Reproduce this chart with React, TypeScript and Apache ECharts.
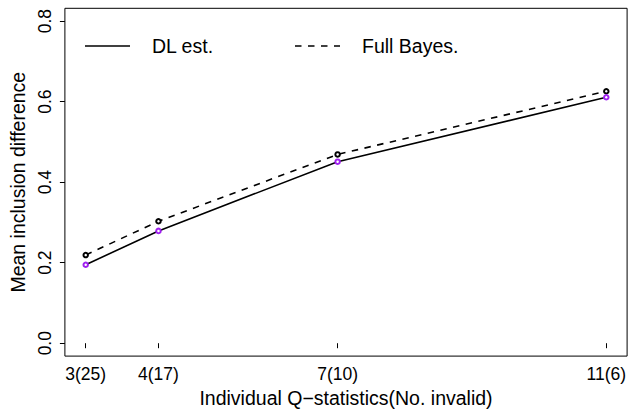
import React, { useEffect, useRef } from "react";
import * as echarts from "echarts";

// x positions of the four settings (on the plot's numeric scale) and their labels
const xPositions = [3, 4.084, 6.753, 10.756];
const xLabels = ["3(25)", "4(17)", "7(10)", "11(6)"];
const yTicks = [0, 0.2, 0.4, 0.6, 0.8];
const dlEst = [0.195, 0.279, 0.451, 0.611];
const fullBayes = [0.219, 0.303, 0.469, 0.626];
const seriesNames = ["DL est.", "Full Bayes."];

const FONT = "Liberation Sans, Arial, Helvetica, sans-serif";

export default function App() {
  const ref = useRef<HTMLDivElement>(null);
  useEffect(() => {
    if (!ref.current) return;
    const chart = echarts.init(ref.current, null, { renderer: "svg" });
    const labelFor = (v: number) => {
      const i = xPositions.findIndex((p) => Math.abs(p - v) < 1e-6);
      return i >= 0 ? xLabels[i] : "";
    };
    chart.setOption({
      animation: false,
      backgroundColor: "#ffffff",
      textStyle: { fontFamily: FONT },
      grid: {
        left: 63,
        top: 8.3,
        width: 566.3,
        height: 355,
        show: true,
        borderColor: "#000000",
        borderWidth: 1,
        backgroundColor: "transparent",
      },
      xAxis: {
        type: "value",
        min: 2.69,
        max: 11.066,
        name: "Individual Q\u2212statistics(No. invalid)",
        nameLocation: "middle",
        nameGap: 27,
        nameTextStyle: { fontSize: 19.5, color: "#000", fontFamily: FONT },
        axisLine: { show: false },
        splitLine: { show: false },
        axisTick: {
          show: true,
          length: 5,
          customValues: xPositions,
          lineStyle: { color: "#000", width: 1 },
        },
        axisLabel: {
          customValues: xPositions,
          formatter: (v: number) => labelFor(v),
          fontSize: 17.5,
          color: "#000",
          margin: 9,
          fontFamily: FONT,
        },
      },
      yAxis: {
        type: "value",
        min: -0.032,
        max: 0.832,
        name: "Mean inclusion difference",
        nameLocation: "middle",
        nameGap: 26,
        nameTextStyle: { fontSize: 19.5, color: "#000", fontFamily: FONT },
        axisLine: { show: false },
        splitLine: { show: false },
        axisTick: {
          show: true,
          length: 5,
          customValues: yTicks,
          lineStyle: { color: "#000", width: 1 },
        },
        axisLabel: {
          customValues: yTicks,
          formatter: (v: number) => v.toFixed(1),
          rotate: 90,
          fontSize: 17.5,
          color: "#000",
          margin: 11,
          fontFamily: FONT,
        },
      },
      series: [
        {
          name: seriesNames[1],
          type: "line",
          data: xPositions.map((x, i) => [x, fullBayes[i]]),
          symbol: "emptyCircle",
          symbolSize: 4.5,
          showAllSymbol: true,
          lineStyle: { color: "#000", width: 1.6, type: [6.5, 6.5] },
          itemStyle: { color: "#000", borderColor: "#000", borderWidth: 1 },
        },
        {
          name: seriesNames[0],
          type: "line",
          data: xPositions.map((x, i) => [x, dlEst[i]]),
          symbol: "emptyCircle",
          symbolSize: 4.5,
          showAllSymbol: true,
          lineStyle: { color: "#000", width: 1.6, type: "solid" },
          itemStyle: { color: "#a020f0", borderColor: "#a020f0", borderWidth: 1 },
        },
      ],
      graphic: [
        {
          type: "line",
          shape: { x1: 85, y1: 46, x2: 130, y2: 46 },
          style: { stroke: "#000", lineWidth: 1.6 },
        },
        {
          type: "text",
          x: 152,
          y: 46,
          style: {
            text: seriesNames[0],
            fontSize: 19.5,
            fontFamily: FONT,
            fill: "#000",
            verticalAlign: "middle",
            textAlign: "left",
          },
        },
        {
          type: "line",
          shape: { x1: 295, y1: 46, x2: 340, y2: 46 },
          style: { stroke: "#000", lineWidth: 1.6, lineDash: [6.5, 6.5] },
        },
        {
          type: "text",
          x: 362,
          y: 46,
          style: {
            text: seriesNames[1],
            fontSize: 19.5,
            fontFamily: FONT,
            fill: "#000",
            verticalAlign: "middle",
            textAlign: "left",
          },
        },
      ],
    });
    return () => chart.dispose();
  }, []);
  return (
    <div
      ref={ref}
      style={{ position: "absolute", left: 0, top: 0, width: 629, height: 413 }}
    />
  );
}
